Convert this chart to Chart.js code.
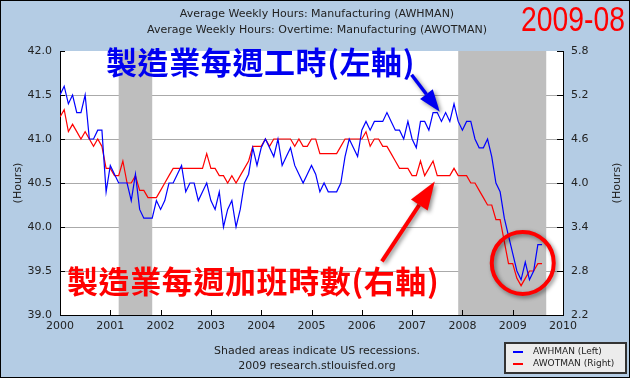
<!DOCTYPE html>
<html>
<head>
<meta charset="utf-8">
<script src="https://cdn.jsdelivr.net/npm/chart.js@4"></script>
<style>
  body { margin: 0; font-family: "DejaVu Sans", Verdana, sans-serif; }
  #wrap { position: relative; width: 630px; height: 378px; background: #b4cce4; overflow: hidden; }
  #chart { position: absolute; left: 0; top: 0; }
  #frame { position: absolute; left: 0; top: 0; width: 630px; height: 378px; box-sizing: border-box; border: 1px solid #000; pointer-events: none; }
  .t { position: absolute; white-space: nowrap; }
  #titles { left: 0; top: 6px; width: 634px; text-align: center; font-size: 11px; line-height: 16px; color: #222; }
  #date { left: 521px; top: 0px; font-family: "Liberation Sans", Arial, sans-serif; font-size: 35px; line-height: 38px; color: #ff0000; transform: scaleX(0.81); transform-origin: 0 0; }
  .zh { font-family: "Noto Sans CJK TC", sans-serif; font-weight: bold; font-size: 31px; line-height: 36px; letter-spacing: 0.6px; }
  #zhBlue { left: 106px; top: 43px; color: #0000f0; }
  #zhRed { left: 67px; top: 262px; color: #ff0000; }
  .hours { width: 60px; text-align: center; font-size: 11px; line-height: 14px; color: #222; transform: rotate(-90deg); }
  #foot { left: 0; top: 343px; width: 634px; text-align: center; font-size: 11px; line-height: 15px; color: #222; }
  #legend { position: absolute; left: 504px; top: 342px; width: 123px; height: 32px; box-sizing: border-box; border: 2px solid #333; background: #ececec; font-size: 9px; color: #222; }
  #legend .row { position: absolute; left: 27px; line-height: 11px; }
  #legend .sw { position: absolute; left: 7px; width: 10px; height: 2px; }
</style>
</head>
<body>
<div id="wrap">
  <canvas id="chart" width="630" height="378"></canvas>
  <div class="t" id="titles">Average Weekly Hours: Manufacturing (AWHMAN)<br>Average Weekly Hours: Overtime: Manufacturing (AWOTMAN)</div>
  <div class="t" id="date">2009-08</div>
  <div class="t zh" id="zhBlue">製造業每週工時(左軸)</div>
  <div class="t zh" id="zhRed">製造業每週加班時數(右軸)</div>
  <div class="t hours" style="left:-12px;top:176px">(Hours)</div>
  <div class="t hours" style="left:587px;top:176px">(Hours)</div>
  <div class="t" id="foot">Shaded areas indicate US recessions.<br>2009 research.stlouisfed.org</div>
  <div id="legend">
    <div class="sw" style="top:7px;background:#0000ff"></div>
    <div class="row" style="top:2px">AWHMAN (Left)</div>
    <div class="sw" style="top:19px;background:#ff0000"></div>
    <div class="row" style="top:14px">AWOTMAN (Right)</div>
  </div>
  <div id="frame"></div>
</div>
<script>
// monthly data, 2000-01 .. 2009-08
const startYear = 2000;

const awhman = [
  41.5, 41.6, 41.4, 41.5, 41.3, 41.3, 41.5, 41.0, 41.0, 41.1, 41.1, 40.4,
  40.7, 40.6, 40.5, 40.5, 40.5, 40.3, 40.6, 40.2, 40.1, 40.1, 40.1, 40.3,
  40.2, 40.3, 40.5, 40.5, 40.6, 40.7, 40.4, 40.5, 40.5, 40.3, 40.4, 40.5,
  40.3, 40.2, 40.4, 40.0, 40.2, 40.3, 40.0, 40.2, 40.5, 40.6, 40.9, 40.7,
  40.9, 41.0, 40.9, 40.8, 41.0, 40.7, 40.8, 40.9, 40.7, 40.6, 40.5, 40.6,
  40.7, 40.6, 40.4, 40.5, 40.4, 40.4, 40.4, 40.5, 40.8, 41.0, 40.9, 40.8,
  41.1, 41.2, 41.1, 41.2, 41.2, 41.2, 41.3, 41.2, 41.1, 41.1, 41.0, 41.2,
  41.0, 40.9, 41.2, 41.2, 41.1, 41.3, 41.3, 41.2, 41.3, 41.2, 41.4, 41.2,
  41.1, 41.2, 41.2, 41.0, 40.9, 40.9, 41.0, 40.8, 40.5, 40.4, 40.1, 39.9,
  39.7, 39.5, 39.4, 39.6, 39.4, 39.5, 39.8, 39.8
];

const awotman = [
  4.9, 5.0, 4.7, 4.8, 4.7, 4.6, 4.7, 4.6, 4.5, 4.6, 4.5, 4.2,
  4.2, 4.1, 4.1, 4.3, 4.0, 4.0, 4.1, 3.9, 3.9, 3.8, 3.8, 3.8,
  3.9, 4.0, 4.1, 4.2, 4.2, 4.2, 4.2, 4.2, 4.2, 4.2, 4.2, 4.4,
  4.2, 4.2, 4.1, 4.1, 4.0, 4.1, 4.0, 4.1, 4.2, 4.3, 4.5, 4.5,
  4.5, 4.6, 4.5, 4.6, 4.6, 4.6, 4.6, 4.6, 4.5, 4.6, 4.5, 4.5,
  4.6, 4.6, 4.4, 4.4, 4.4, 4.4, 4.4, 4.5, 4.6, 4.6, 4.6, 4.6,
  4.6, 4.7, 4.5, 4.6, 4.6, 4.5, 4.5, 4.4, 4.3, 4.2, 4.2, 4.2,
  4.1, 4.1, 4.3, 4.1, 4.2, 4.3, 4.1, 4.1, 4.1, 4.1, 4.2, 4.1,
  4.1, 4.1, 4.0, 4.0, 3.9, 3.8, 3.7, 3.7, 3.5, 3.5, 3.2, 2.9,
  2.9, 2.7, 2.6, 2.7, 2.8, 2.8, 2.9, 2.9
];

const recessionStart = ["2001-03", "2007-12"];
const recessionEnd = ["2001-11", "2009-09"];

const yearTicks = [2000, 2001, 2002, 2003, 2004, 2005, 2006, 2007, 2008, 2009, 2010];
const leftTicks = [39.0, 39.5, 40.0, 40.5, 41.0, 41.5, 42.0];
const rightTicks = [2.2, 2.8, 3.4, 4.0, 4.6, 5.2, 5.8];

function toYear(s) {
  const [y, m] = s.split("-").map(Number);
  return y + (m - 1) / 12;
}

const blueData = awhman.map((v, i) => ({ x: startYear + i / 12, y: v }));
const redData = awotman.map((v, i) => ({ x: startYear + i / 12, y: v }));

function arrow(ctx, x1, y1, x2, y2, color, w, headLen, headW) {
  const ang = Math.atan2(y2 - y1, x2 - x1);
  const bx = x2 - headLen * Math.cos(ang);
  const by = y2 - headLen * Math.sin(ang);
  ctx.strokeStyle = color;
  ctx.fillStyle = color;
  ctx.lineWidth = w;
  ctx.beginPath();
  ctx.moveTo(x1, y1);
  ctx.lineTo(bx, by);
  ctx.stroke();
  ctx.beginPath();
  ctx.moveTo(x2, y2);
  ctx.lineTo(bx + headW * Math.sin(ang), by - headW * Math.cos(ang));
  ctx.lineTo(bx - headW * Math.sin(ang), by + headW * Math.cos(ang));
  ctx.closePath();
  ctx.fill();
}

const extras = {
  id: "extras",
  beforeDraw(chart) {
    const { ctx, chartArea: a } = chart;
    ctx.save();
    ctx.fillStyle = "#ffffff";
    ctx.fillRect(a.left, a.top, a.right - a.left, a.bottom - a.top);
    ctx.restore();
  },
  beforeDatasetsDraw(chart) {
    const { ctx, chartArea: a, scales } = chart;
    ctx.save();
    ctx.fillStyle = "#bebebe";
    recessionStart.forEach((s, i) => {
      const x1 = scales.x.getPixelForValue(toYear(s));
      const x2 = scales.x.getPixelForValue(toYear(recessionEnd[i]));
      ctx.fillRect(x1, a.top, x2 - x1, a.bottom - a.top);
    });
    ctx.restore();
  },
  afterDraw(chart) {
    const { ctx, chartArea: a, scales } = chart;
    ctx.save();
    // inside tick marks
    ctx.strokeStyle = "#000";
    ctx.lineWidth = 1;
    ctx.beginPath();
    leftTicks.forEach(v => {
      const y = Math.round(scales.yL.getPixelForValue(v)) + 0.5;
      ctx.moveTo(a.left, y); ctx.lineTo(a.left + 5, y);
    });
    rightTicks.forEach(v => {
      const y = Math.round(scales.yR.getPixelForValue(v)) + 0.5;
      ctx.moveTo(a.right, y); ctx.lineTo(a.right - 6, y);
    });
    yearTicks.forEach(v => {
      const x = Math.round(scales.x.getPixelForValue(v)) + 0.5;
      ctx.moveTo(x, a.bottom); ctx.lineTo(x, a.bottom - 5);
    });
    ctx.stroke();

    // annotations
    ctx.shadowColor = "rgba(0,0,0,0.45)";
    ctx.shadowBlur = 4;
    ctx.shadowOffsetX = 2;
    ctx.shadowOffsetY = 2;
    arrow(ctx,
      scales.x.getPixelForValue(2006.99), scales.yL.getPixelForValue(41.73),
      scales.x.getPixelForValue(2007.55), scales.yL.getPixelForValue(41.31),
      "#0000f0", 3.5, 22, 8);
    arrow(ctx,
      scales.x.getPixelForValue(2006.40), scales.yR.getPixelForValue(2.93),
      scales.x.getPixelForValue(2007.45), scales.yR.getPixelForValue(4.02),
      "#ff0000", 4, 28, 10);
    ctx.strokeStyle = "#ff0000";
    ctx.lineWidth = 4;
    ctx.beginPath();
    ctx.arc(scales.x.getPixelForValue(2009.2), scales.yR.getPixelForValue(2.91), 31, 0, Math.PI * 2);
    ctx.stroke();
    ctx.restore();
  }
};

Chart.defaults.font.family = "'DejaVu Sans', Verdana, sans-serif";
Chart.defaults.font.size = 11;
Chart.defaults.color = "#222";

new Chart(document.getElementById("chart").getContext("2d"), {
  type: "line",
  data: {
    datasets: [
      { label: "AWHMAN (Left)", data: blueData, yAxisID: "yL", borderColor: "#0000ff", borderWidth: 1.2, pointRadius: 0, tension: 0 },
      { label: "AWOTMAN (Right)", data: redData, yAxisID: "yR", borderColor: "#ff0000", borderWidth: 1.2, pointRadius: 0, tension: 0 }
    ]
  },
  options: {
    responsive: false,
    animation: false,
    devicePixelRatio: 1,
    layout: { padding: { top: 51, left: 0, right: 0, bottom: 0 } },
    plugins: { legend: { display: false }, tooltip: { enabled: false } },
    scales: {
      x: {
        type: "linear",
        min: 2000,
        max: 2010,
        afterFit: s => { s.height = 63; },
        afterBuildTicks: s => { s.ticks = yearTicks.map(v => ({ value: v })); },
        ticks: { callback: v => String(v), padding: 5, maxRotation: 0, autoSkip: false },
        grid: { display: false, drawTicks: false },
        border: { display: true, color: "#000", width: 1 }
      },
      yL: {
        position: "left",
        min: 39,
        max: 42,
        afterFit: s => { s.width = 60; },
        afterBuildTicks: s => { s.ticks = leftTicks.map(v => ({ value: v })); },
        ticks: { callback: v => v.toFixed(1), padding: 8 },
        grid: {
          drawTicks: false,
          color: c => (c.tick && (c.tick.value === 42 || c.tick.value === 39)) ? "rgba(0,0,0,0)" : "#aaaaaa"
        },
        border: { display: true, color: "#000", width: 1 }
      },
      yR: {
        position: "right",
        min: 2.2,
        max: 5.8,
        afterFit: s => { s.width = 67; },
        afterBuildTicks: s => { s.ticks = rightTicks.map(v => ({ value: v })); },
        ticks: { callback: v => v.toFixed(1), padding: 8 },
        grid: { display: false, drawTicks: false },
        border: { display: true, color: "#000", width: 1 }
      }
    }
  },
  plugins: [extras]
});
</script>
</body>
</html>
